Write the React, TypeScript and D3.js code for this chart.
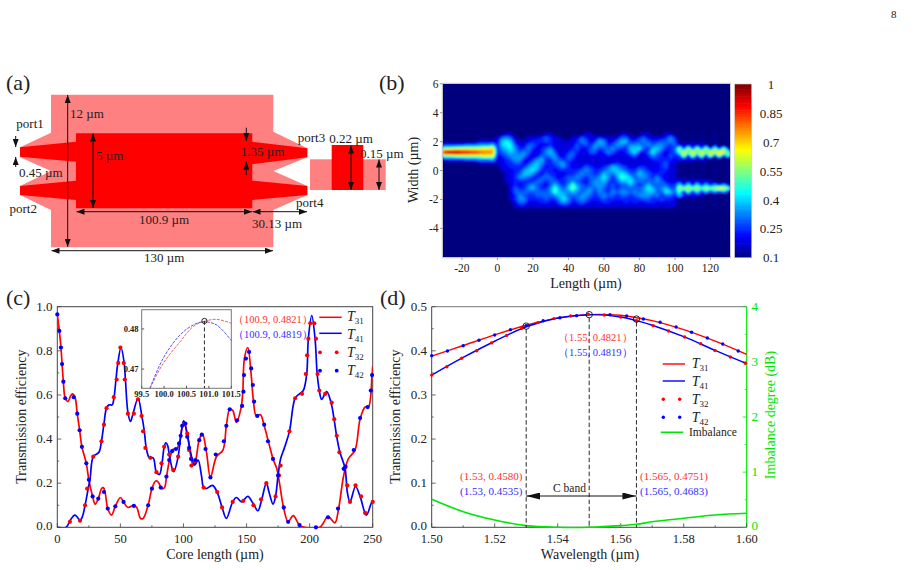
import { useMemo } from "react";
import * as d3 from "d3";

const FONT = "'Liberation Serif', serif";
const RED = "#ff0000";
const BLUE = "#0000ff";
const GREEN = "#00e600";
const AXIS = "#444";

// (a) device outline in um
const claddingOutline = [
    [0, 6], [130, 6], [130, 3.09], [149.9, 1.78], [149.9, 1.08], [130, 0], [149.9, -1.18], [149.9, -1.89],
    [130, -3.07], [130, -6], [0, -6], [0, -3.07], [-18.1, -1.89], [-18.1, -1.18], [0, 0], [-18.1, 1.08],
    [-18.1, 1.86], [0, 3.01],
];
const coreOutline = [
    [14.6, 2.96], [117.7, 2.96], [117.7, 2.3], [149.9, 1.78], [149.9, 1.08], [117.7, 0.53], [117.7, -0.76],
    [149.9, -1.18], [149.9, -1.89], [117.7, -2.28], [117.7, -2.93], [14.6, -2.93], [14.6, -2.28], [-18.1, -1.89],
    [-18.1, -1.18], [14.6, -0.76], [14.6, 0.73], [-18.1, 1.12], [-18.1, 1.86], [14.6, 2.3],
];

// (b) field intensity, base-36 digits, value = 0.1 + 0.05 * digit ("." is the faint streak level)
// rows run y = 2.5 .. -2.75, step 0.25. columns step 2.5 um
const inputRows = [
    "000000000000", "000000000000", "000000001111", "333334445556", "999aaaaaabbc", "hiiihhggfeed",
    "999aaaaaabbb", "333334445556", "000000001111", "000000000000", "000000000000", "000000000000",
    "000000000000", "000000000000", "000000000000", "000000000000", "000000000000", "000000000000",
    "000000000000", "000000000000", "000000000000", "000000000000",
];
const coreRows = [
    "00110000000110000000110000001100011000110",
    "14541001123431100124312321124421342122353",
    "26762112333432111135423652246633454334454",
    "36774224432232111243435553455455545455434",
    "35675335323452122342245344543366743665334",
    "34565454223564123432244235422357324753234",
    "23455553224455224421222223222234213543243",
    "12345532356335434321111221111112112333332",
    "12334423565334553221221111232111111223422",
    "01233335664233453222432234654322332223411",
    "01123356753332333334543345665433543223311",
    "00123466532433223345443465467644654333211",
    "00123554334443234454344575358764554353211",
    "00123333344344334543245564346675444454222",
    "00023234543246435854345553434464346444433",
    "00024335643358546964454543434444457645644",
    "00014444444458655654553543545545456644764",
    "00013543344445664445543454434434555453443",
    "00013553333433575345433343333333344334332",
    "00002442223322454234322233222323223322222",
    "00001221111111122111111111111111111111111",
    "00000000000000000000000000000000000000000",
];
const outputRows = [
    "0.0.0.00.00.", "0.0.0.00.00.", "0.0.0.00.00.", "212212101000", "a3a3a3a29292", "8b9b9b9bacb8",
    "3a2a3a2a2a28", "313111100000", "0.0.0.00.00.", "0.0.0.00.00.", "0.0.0.00.00.", "0.0.0.00.00.",
    "0.0.0.00.00.", "212121110000", "717171615151", "a9a9a8a9acb9", "818171615151", "631311000000",
    "0.0.0.00.00.", "0.0.0.00.00.", "0.0.0.00.00.", "0.0.0.00.00.",
];
const jetStops = [0.1, 0.2125, 0.325, 0.4375, 0.55, 0.6625, 0.775, 0.8875, 1];
const jetColors = ["#00007f", "#0000ff", "#007fff", "#00ffff", "#7fff7f", "#ffff00", "#ff7f00", "#ff0000", "#7f0000"];
const colorbarLabels = [1, 0.85, 0.7, 0.55, 0.4, 0.25, 0.1];

// (c) lines
const t31X = [0, 1.6, 2.9, 3.8, 4.8, 6.3, 8.5, 10.5, 12, 14, 15.8, 17.7, 19.5, 23, 25, 28, 30, 32.5, 35, 36.5, 38, 40, 43, 46, 50, 52.5, 56, 60.7, 63, 66, 68, 72, 75, 78, 80, 83, 85, 86.5, 89.2, 91.8, 94.4, 97, 100.2, 103.7, 105, 107.6, 109.7, 112.4, 115, 118.2, 121.4, 126.1, 131.3, 134, 136.7, 139, 142, 145.6, 147, 148.3, 151, 153.7, 155.5, 157.7, 161, 164, 167.5, 171, 174, 176, 179.5, 183, 187, 192, 196, 208, 214.6, 220, 223, 227, 230.7, 236, 240, 244, 246.6, 249.5, 250];
const t31Y = [0.965, 0.89, 0.815, 0.74, 0.66, 0.585, 0.57, 0.595, 0.605, 0.59, 0.515, 0.44, 0.365, 0.29, 0.215, 0.14, 0.105, 0.13, 0.175, 0.18, 0.155, 0.085, 0.055, 0.095, 0.135, 0.115, 0.09, 0.1, 0.09, 0.04, 0.04, 0.1, 0.175, 0.21, 0.205, 0.175, 0.18, 0.226, 0.312, 0.354, 0.354, 0.387, 0.482, 0.4, 0.35, 0.282, 0.305, 0.395, 0.425, 0.342, 0.226, 0.32, 0.35, 0.46, 0.535, 0.53, 0.475, 0.54, 0.61, 0.765, 0.815, 0.69, 0.57, 0.505, 0.51, 0.46, 0.385, 0.31, 0.265, 0.205, 0.085, 0.025, 0.053, 0.01, 0, 0, 0.048, 0.02, 0.085, 0.235, 0.31, 0.35, 0.49, 0.545, 0.545, 0.69, 0.73];
const t41X = [0, 7, 10, 12.5, 14, 16, 18, 20, 22, 24.5, 26, 28.5, 33, 35, 37, 39, 41, 43.5, 45, 46.5, 48, 50.5, 53, 54, 56, 58, 60, 64, 67, 69, 70.5, 73, 76, 78.5, 81, 83, 84.6, 86, 87.5, 89.2, 92.3, 95.8, 97.5, 100.2, 103.7, 106.8, 108.9, 111.6, 114.2, 116, 118, 123, 126.7, 130.6, 134, 139, 142, 146, 151, 155, 159, 162, 165.7, 167.8, 171, 173, 175, 177, 180, 184, 188.5, 192, 195, 197.7, 199, 201.7, 204.3, 206, 207.7, 209.5, 213.5, 217, 219.4, 221.5, 224, 228, 230, 232, 236.4, 240, 245, 249, 250];
const t41Y = [0, 0, 0.03, 0.05, 0.055, 0.045, 0.03, 0.05, 0.1, 0.175, 0.22, 0.32, 0.34, 0.39, 0.47, 0.54, 0.555, 0.555, 0.59, 0.67, 0.745, 0.815, 0.745, 0.67, 0.52, 0.48, 0.515, 0.585, 0.505, 0.435, 0.36, 0.315, 0.315, 0.25, 0.24, 0.29, 0.36, 0.383, 0.37, 0.312, 0.252, 0.32, 0.4, 0.482, 0.4, 0.312, 0.282, 0.305, 0.237, 0.18, 0.175, 0.19, 0.16, 0.09, 0.04, 0.115, 0.135, 0.115, 0.14, 0.11, 0.075, 0.125, 0.2, 0.16, 0.105, 0.14, 0.235, 0.31, 0.36, 0.435, 0.585, 0.605, 0.62, 0.695, 0.855, 0.96, 0.855, 0.695, 0.62, 0.58, 0.615, 0.565, 0.49, 0.41, 0.34, 0.27, 0.155, 0.115, 0.185, 0.14, 0.055, 0.11, 0.115];
// (c) dots
const t32X = [10, 18, 22, 23.7, 28.5, 35, 37, 39, 44.8, 47, 48.3, 50, 52.7, 53.5, 56, 60.7, 64, 66.8, 68, 69.8, 73.8, 78.6, 82.6, 84.7, 88.7, 91.8, 95.8, 100.2, 103, 104.5, 106.3, 109, 116, 126.7, 130.6, 139, 147.5, 155.5, 161.5, 165.7, 173, 175.7, 177, 184, 188.5, 194, 197, 198, 199, 200.5, 203.7, 205, 206.3, 207.7, 212.3, 217.5, 219.5, 221.5, 223.6, 228, 229.8, 232, 236.4, 240.8, 244, 250];
const t32Y = [0.025, 0.03, 0.1, 0.175, 0.32, 0.39, 0.465, 0.54, 0.59, 0.67, 0.745, 0.815, 0.745, 0.67, 0.515, 0.515, 0.58, 0.505, 0.435, 0.36, 0.315, 0.25, 0.29, 0.365, 0.33, 0.26, 0.32, 0.465, 0.425, 0.35, 0.28, 0.3, 0.18, 0.16, 0.09, 0.115, 0.12, 0.1, 0.127, 0.2, 0.14, 0.235, 0.28, 0.435, 0.585, 0.605, 0.695, 0.78, 0.855, 0.925, 0.925, 0.855, 0.695, 0.62, 0.605, 0.565, 0.49, 0.415, 0.34, 0.27, 0.19, 0.115, 0.19, 0.14, 0.065, 0.115];
const t42X = [0, 1.6, 2.9, 3.8, 4.8, 6.3, 13, 15.8, 17.7, 19.5, 23, 25, 28, 32.5, 37, 40, 46, 52.5, 60.7, 72, 75, 82, 86.5, 88.7, 91, 94, 96.5, 97.8, 99, 101.5, 103, 104.5, 106, 109.5, 112.5, 114.5, 117.5, 121.4, 125.6, 132, 134, 136.7, 142.5, 146.5, 147.5, 148, 149.5, 152, 153.7, 155, 156, 158.5, 164, 167, 171, 175, 179.5, 183, 192, 205, 214.6, 222.5, 227, 228.5, 235, 240, 246, 248.5, 249.5];
const t42Y = [0.965, 0.89, 0.815, 0.74, 0.66, 0.585, 0.59, 0.515, 0.44, 0.365, 0.29, 0.215, 0.14, 0.13, 0.16, 0.085, 0.095, 0.115, 0.097, 0.1, 0.175, 0.18, 0.23, 0.305, 0.345, 0.355, 0.38, 0.415, 0.46, 0.47, 0.41, 0.36, 0.31, 0.305, 0.395, 0.42, 0.355, 0.226, 0.33, 0.39, 0.46, 0.535, 0.485, 0.55, 0.615, 0.69, 0.765, 0.795, 0.72, 0.645, 0.57, 0.505, 0.465, 0.39, 0.31, 0.235, 0.09, 0.025, 0.01, 0, 0.045, 0.085, 0.265, 0.275, 0.35, 0.495, 0.545, 0.62, 0.69];
// (c) inset
const insetX = [99.685, 99.98, 100.355, 100.65, 100.875, 101.17, 101.5];
const insetT31 = [0.4652, 0.4714, 0.4768, 0.4806, 0.4818, 0.4824, 0.4814];
const insetT41 = [0.4652, 0.4727, 0.4785, 0.481, 0.4818, 0.481, 0.4771];

// (d)
const wlX = [1.5, 1.51, 1.52, 1.53, 1.54, 1.55, 1.56, 1.565, 1.57, 1.58, 1.59, 1.6];
const wlT31 = [0.388, 0.412, 0.436, 0.458, 0.474, 0.4821, 0.4805, 0.4751, 0.4685, 0.448, 0.422, 0.392];
const wlT41 = [0.345, 0.385, 0.4217, 0.4545, 0.4745, 0.4819, 0.4767, 0.4683, 0.458, 0.432, 0.401, 0.371];
const imbalance = [0.508, 0.283, 0.132, 0.03, 0, 0, 0.03, 0.054, 0.1, 0.163, 0.223, 0.254];
const wlT32X = [1.5, 1.5048, 1.5095, 1.5143, 1.519, 1.5238, 1.5286, 1.5337, 1.5388, 1.5441, 1.5497, 1.5548, 1.56, 1.5651, 1.5703, 1.5752, 1.5803, 1.5854, 1.5899, 1.5948, 1.5996];
const wlT32Y = [0.345, 0.364, 0.383, 0.4, 0.418, 0.435, 0.451, 0.464, 0.473, 0.479, 0.483, 0.4812, 0.4767, 0.468, 0.457, 0.445, 0.4313, 0.4162, 0.401, 0.386, 0.3717];
const wlT42X = [1.5, 1.505, 1.51, 1.515, 1.52, 1.525, 1.53, 1.5354, 1.5407, 1.546, 1.5566, 1.5619, 1.5672, 1.5725, 1.5776, 1.5825, 1.5875, 1.5924, 1.5973];
const wlT42Y = [0.389, 0.3996, 0.4116, 0.4238, 0.436, 0.448, 0.457, 0.468, 0.475, 0.4797, 0.482, 0.479, 0.472, 0.4646, 0.454, 0.442, 0.429, 0.4155, 0.3996];
const markerWl = [1.53, 1.55, 1.565];
const markerEff = [0.456, 0.482, 0.472];

const Txt = ({ x, y, size = 13, fill = "#222", anchor = "start", rotate, bold, children }: any) => (
    <text
        x={x}
        y={y}
        fontSize={size}
        fill={fill}
        textAnchor={anchor}
        fontWeight={bold ? "bold" : "normal"}
        transform={rotate ? `rotate(${rotate} ${x} ${y})` : undefined}
    >
        {children}
    </text>
);

const Arrow = ({ x1, y1, x2, y2, both = true }: any) => (
    <line
        x1={x1}
        y1={y1}
        x2={x2}
        y2={y2}
        stroke="#111"
        strokeWidth={1}
        markerEnd="url(#arrow)"
        markerStart={both ? "url(#arrow)" : undefined}
    />
);

function SubT({ x, y, sub }: any) {
    return (
        <text x={x} y={y} fontSize={14} fill="#222" fontStyle="italic">
            T
            <tspan fontSize={9} dy={3} fontStyle="normal">
                {sub}
            </tspan>
        </text>
    );
}

function Ticks({ scale, values, minor, orient, at, color = AXIS, len = 4 }: any) {
    const row = (v: number, l: number, key: string) => {
        const p = scale(v);
        if (orient === "bottom") return <line key={key} x1={p} x2={p} y1={at} y2={at - l} stroke={color} />;
        if (orient === "left") return <line key={key} x1={at} x2={at + l} y1={p} y2={p} stroke={color} />;
        return <line key={key} x1={at} x2={at - l} y1={p} y2={p} stroke={color} />;
    };
    return (
        <g strokeWidth={0.8}>
            {values.map((v: number) => row(v, len, `M${v}`))}
            {(minor || []).map((v: number) => row(v, len / 2, `m${v}`))}
        </g>
    );
}

function PanelA() {
    const schemX = d3.scaleLinear().domain([0, 130]).range([51, 273.3]);
    const schemY = d3.scaleLinear().domain([-6, 6]).range([247.3, 94.7]);
    const outline = d3
        .line<number[]>()
        .x((d) => schemX(d[0]))
        .y((d) => schemY(d[1]))
        .curve(d3.curveLinearClosed);
    return (
        <g>
            <path d={outline(claddingOutline) as string} fill="#ff8080" />
            <path d={outline(coreOutline) as string} fill="#ff0000" />
            <rect x={310} y={159.3} width={75.7} height={30.7} fill="#ff8080" />
            <rect x={331.7} y={145} width={31.6} height={45} fill="#ff0000" />
            <Arrow x1={67.7} y1={95} x2={67.7} y2={247} />
            <Arrow x1={93} y1={133.5} x2={93} y2={208} />
            <Arrow x1={76.5} y1={211.7} x2={252} y2={211.7} />
            <Arrow x1={252.5} y1={211.7} x2={307} y2={211.7} />
            <Arrow x1={51.5} y1={250.7} x2={273} y2={250.7} />
            <Arrow x1={15.7} y1={136} x2={15.7} y2={147} both={false} />
            <Arrow x1={15.7} y1={167} x2={15.7} y2={157} both={false} />
            <Arrow x1={246.3} y1={127.7} x2={246.3} y2={141} both={false} />
            <Arrow x1={246.3} y1={175} x2={246.3} y2={161.7} both={false} />
            <Arrow x1={351} y1={145.5} x2={351} y2={190} />
            <Arrow x1={379} y1={159.5} x2={379} y2={190} />
            <Txt x={6} y={90} size={22}>(a)</Txt>
            <Txt x={70} y={118}>12 µm</Txt>
            <Txt x={16.3} y={128}>port1</Txt>
            <Txt x={96} y={160}>5 µm</Txt>
            <Txt x={19} y={177}>0.45 µm</Txt>
            <Txt x={9.5} y={213}>port2</Txt>
            <Txt x={240.7} y={156}>1.35 µm</Txt>
            <Txt x={297.7} y={142}>port3</Txt>
            <Txt x={329.3} y={143}>0.22 µm</Txt>
            <Txt x={360} y={158}>0.15 µm</Txt>
            <Txt x={296} y={207}>port4</Txt>
            <Txt x={139} y={224}>100.9 µm</Txt>
            <Txt x={252} y={228}>30.13 µm</Txt>
            <Txt x={144} y={262}>130 µm</Txt>
        </g>
    );
}

function PanelB() {
    const x = d3.scaleLinear().domain([-30.8, 131]).range([442.7, 730]);
    const y = d3.scaleLinear().domain([-6, 6]).range([257.3, 83.8]);
    const jet = d3.scaleLinear<string>().domain(jetStops).range(jetColors).clamp(true);
    const barY = d3.scaleLinear().domain([0.1, 1]).range([257.3, 84]);
    const bands = useMemo(() => {
        const rows = inputRows.map((r, i) => r + coreRows[i] + outputRows[i]);
        const n = rows[0].length;
        const level = (c: string) => {
            if (c === ".") return 0.125;
            if (c === "1") return 0.18;
            return 0.1 + 0.05 * parseInt(c, 36);
        };
        const values = rows.flatMap((r) => r.split("").map(level));
        return d3.contours().size([n, rows.length]).thresholds(d3.range(0.105, 1, 0.015))(values);
    }, []);
    const path = d3.geoPath(
        d3.geoTransform({
            point(gx: number, gy: number) {
                (this as any).stream.point(x(-30 + (gx - 0.5) * 2.5), y(2.52 - (gy - 0.5) * 0.25));
            },
        })
    );
    return (
        <g>
            <defs>
                <clipPath id="heatClip">
                    <rect x={442.7} y={83.8} width={287.3} height={173.5} />
                </clipPath>
                <filter id="soft" x="-5%" y="-5%" width="110%" height="110%">
                    <feGaussianBlur stdDeviation={0.85} />
                </filter>
            </defs>
            <rect x={442.7} y={83.8} width={287.3} height={173.5} fill={jet(0.1)} />
            <g clipPath="url(#heatClip)">
                <g filter="url(#soft)">
                    {bands.map((b) => (
                        <path key={b.value} d={path(b) as string} fill={jet(b.value)} />
                    ))}
                </g>
            </g>
            <rect x={442.2} y={83.3} width={288.3} height={174.5} fill="none" stroke="#ccc" strokeWidth={1} />
            {d3.range(99, 0, -1).map((i) => {
                const v = 0.1 + (i * 0.9) / 99;
                return (
                    <rect
                        key={i}
                        x={734.7}
                        y={barY(v)}
                        width={17}
                        height={barY(0.1) - barY(0.1 + 0.9 / 99) + 0.6}
                        fill={jet(v)}
                    />
                );
            })}
            <rect x={734.7} y={84} width={17} height={173.3} fill="none" stroke="#ccc" strokeWidth={0.6} />
            {colorbarLabels.map((v) => (
                <Txt key={v} x={771} y={barY(v) + 5} anchor="middle" size={13}>
                    {v}
                </Txt>
            ))}
            {[-20, 0, 20, 40, 60, 80, 100, 120].map((v) => (
                <g key={v}>
                    <line x1={x(v)} x2={x(v)} y1={257.3} y2={260} stroke="#999" />
                    <Txt x={x(v)} y={272} size={11.5} anchor="middle">{v}</Txt>
                </g>
            ))}
            {[6, 4, 2, 0, -2, -4].map((v) => (
                <g key={v}>
                    <line x1={440} x2={442.7} y1={y(v)} y2={y(v)} stroke="#999" />
                    <Txt x={438.5} y={y(v) + 4} size={11.5} anchor="end">{v}</Txt>
                </g>
            ))}
            <Txt x={586} y={288} size={14} anchor="middle">Length (µm)</Txt>
            <Txt x={418} y={170} size={14} anchor="middle" rotate={-90}>Width (µm)</Txt>
            <Txt x={379} y={90} size={22}>(b)</Txt>
        </g>
    );
}

function PanelC() {
    const x = d3.scaleLinear().domain([0, 250]).range([57.3, 372.7]);
    const y = d3.scaleLinear().domain([0, 1]).range([527.3, 306.7]);
    const ix = d3.scaleLinear().domain([99.5, 101.5]).range([141.7, 231.3]);
    const iy = d3.scaleLinear().domain([0.4652, 0.4848]).range([388.3, 309.7]);
    const line = d3
        .line<number>()
        .x((d) => x(d))
        .curve(d3.curveCatmullRom.alpha(0.5));
    const inset = (vals: number[]) =>
        d3
            .line<number>()
            .x((d) => ix(d))
            .y((_, i) => iy(vals[i]))
            .curve(d3.curveCatmullRom)(insetX) as string;
    return (
        <g>
            <defs>
                <clipPath id="cClip">
                    <rect x={57.3} y={306.7} width={315.4} height={220.6} />
                </clipPath>
            </defs>
            <rect x={57.3} y={306.7} width={315.4} height={220.6} fill="none" stroke={AXIS} strokeWidth={1} />
            <Ticks scale={x} values={[0, 50, 100, 150, 200, 250]} minor={[25, 75, 125, 175, 225]} orient="bottom" at={527.3} />
            <Ticks scale={y} values={[0, 0.2, 0.4, 0.6, 0.8, 1]} minor={[0.1, 0.3, 0.5, 0.7, 0.9]} orient="left" at={57.3} />
            <g clipPath="url(#cClip)">
                <path d={line.y((_, i) => y(t31Y[i]))(t31X) as string} fill="none" stroke={RED} strokeWidth={1.7} />
                <path d={line.y((_, i) => y(t41Y[i]))(t41X) as string} fill="none" stroke={BLUE} strokeWidth={1.7} />
            </g>
            {t32X.map((v, i) => (
                <circle key={i} cx={x(v)} cy={y(t32Y[i])} r={2.1} fill={RED} />
            ))}
            {t42X.map((v, i) => (
                <circle key={i} cx={x(v)} cy={y(t42Y[i])} r={2.1} fill={BLUE} />
            ))}
            <rect x={141.7} y={309.7} width={89.6} height={78.6} fill="#fff" stroke="#777" strokeWidth={1} />
            <path d={inset(insetT31)} fill="none" stroke="#f05050" strokeWidth={0.9} strokeDasharray="3 1.2" />
            <path d={inset(insetT41)} fill="none" stroke="#4040f0" strokeWidth={0.9} strokeDasharray="3 1.2" />
            <line x1={ix(100.9)} x2={ix(100.9)} y1={iy(0.482)} y2={388.3} stroke="#111" strokeWidth={0.9} strokeDasharray="4 2.5" />
            <circle cx={ix(100.9)} cy={iy(0.482)} r={2.6} fill="none" stroke="#111" strokeWidth={0.9} />
            {[99.5, 100, 100.5, 101, 101.5].map((v) => (
                <g key={v}>
                    <line x1={ix(v)} x2={ix(v)} y1={388.3} y2={385.8} stroke="#555" />
                    <Txt x={ix(v)} y={397} size={8.5} bold anchor="middle">{v.toFixed(1)}</Txt>
                </g>
            ))}
            {[0.48, 0.47].map((v) => (
                <g key={v}>
                    <line x1={141.7} x2={144.2} y1={iy(v)} y2={iy(v)} stroke="#555" />
                    <Txt x={138.5} y={iy(v) + 3} size={8.5} bold anchor="end">{v.toFixed(2)}</Txt>
                </g>
            ))}
            <Txt x={233} y={322.5} size={10.5} fill="#ff3030">（100.9, 0.4821）</Txt>
            <Txt x={233} y={338} size={10.5} fill="#3030ff">（100.9, 0.4819）</Txt>
            <line x1={319.3} x2={341.7} y1={317.3} y2={317.3} stroke={RED} strokeWidth={1.5} />
            <line x1={319.3} x2={341.7} y1={333.3} y2={333.3} stroke={BLUE} strokeWidth={1.5} />
            {[320, 336.7].map((cx) => (
                <g key={cx}>
                    <circle cx={cx} cy={352.3} r={1.9} fill={RED} />
                    <circle cx={cx} cy={370.7} r={1.9} fill={BLUE} />
                </g>
            ))}
            <SubT x={347} y={321} sub="31" />
            <SubT x={347} y={339} sub="41" />
            <SubT x={347} y={357} sub="32" />
            <SubT x={347} y={375} sub="42" />
            {[0, 50, 100, 150, 200, 250].map((v) => (
                <Txt key={v} x={x(v)} y={543.3} size={12.5} anchor="middle">{v}</Txt>
            ))}
            {[0, 0.2, 0.4, 0.6, 0.8, 1].map((v) => (
                <Txt key={v} x={52.5} y={v === 0 ? 529.5 : y(v) + 4} size={13} anchor="end">{v.toFixed(1)}</Txt>
            ))}
            <Txt x={26} y={416.7} size={14} anchor="middle" rotate={-90}>Transmission efficiency</Txt>
            <Txt x={215} y={558.8} size={14} anchor="middle">Core length (µm)</Txt>
            <Txt x={6} y={305} size={22}>(c)</Txt>
        </g>
    );
}

function PanelD() {
    const x = d3.scaleLinear().domain([1.5, 1.6]).range([431.7, 746.7]);
    const y = d3.scaleLinear().domain([0, 0.5]).range([527.3, 306.7]);
    const yDb = d3.scaleLinear().domain([0, 4]).range([527.3, 306.7]);
    const line = (s: (v: number) => number, vals: number[]) =>
        d3
            .line<number>()
            .x((d) => x(d))
            .y((_, i) => s(vals[i]))
            .curve(d3.curveCatmullRom.alpha(0.5))(wlX) as string;
    return (
        <g>
            <defs>
                <marker id="cband" viewBox="0 0 14 7" refX="14" refY="3.5" markerWidth="14" markerHeight="7" markerUnits="userSpaceOnUse" orient="auto-start-reverse">
                    <path d="M0 0L14 3.5L0 7Z" fill="#111" />
                </marker>
            </defs>
            <line x1={431.7} x2={746.7} y1={306.7} y2={306.7} stroke="#777" />
            <line x1={431.7} x2={431.7} y1={306.7} y2={527.3} stroke={AXIS} />
            <line x1={431.7} x2={746.7} y1={527.3} y2={527.3} stroke={AXIS} />
            <line x1={746.7} x2={746.7} y1={306.7} y2={527.3} stroke={GREEN} strokeWidth={1.2} />
            <Ticks scale={x} values={[1.5, 1.52, 1.54, 1.56, 1.58, 1.6]} minor={[1.51, 1.53, 1.55, 1.57, 1.59]} orient="bottom" at={527.3} />
            <Ticks scale={y} values={[0, 0.1, 0.2, 0.3, 0.4, 0.5]} minor={[0.05, 0.15, 0.25, 0.35, 0.45]} orient="left" at={431.7} />
            <Ticks scale={yDb} values={[0, 1, 2, 3, 4]} minor={[0.5, 1.5, 2.5, 3.5]} orient="right" at={746.7} color={GREEN} />
            <path d={line(y, wlT31)} fill="none" stroke={RED} strokeWidth={1.4} />
            <path d={line(y, wlT41)} fill="none" stroke={BLUE} strokeWidth={1.4} />
            <path d={line(yDb, imbalance)} fill="none" stroke={GREEN} strokeWidth={1.6} />
            {wlT32X.map((v, i) => (
                <circle key={i} cx={x(v)} cy={y(wlT32Y[i])} r={1.7} fill={RED} />
            ))}
            {wlT42X.map((v, i) => (
                <circle key={i} cx={x(v)} cy={y(wlT42Y[i])} r={1.7} fill={BLUE} />
            ))}
            {markerWl.map((v, i) => (
                <g key={v}>
                    <line x1={x(v)} x2={x(v)} y1={y(markerEff[i]) + 3} y2={527.3} stroke="#111" strokeWidth={0.9} strokeDasharray="4.5 2.5" />
                    <circle cx={x(v)} cy={y(markerEff[i])} r={3.2} fill="none" stroke="#111" strokeWidth={0.9} />
                </g>
            ))}
            <line x1={x(1.53)} x2={x(1.565)} y1={496} y2={496} stroke="#111" strokeWidth={1} markerStart="url(#cband)" markerEnd="url(#cband)" />
            <Txt x={553} y={492} size={11.5}>C band</Txt>
            <Txt x={558} y={340.5} size={10.5} fill="#ff3030">（1.55, 0.4821）</Txt>
            <Txt x={558} y={355.5} size={10.5} fill="#3030ff">（1.55, 0.4819）</Txt>
            <Txt x={460} y={480} size={11} fill="#ff3030">(1.53, 0.4580)</Txt>
            <Txt x={460} y={495} size={11} fill="#3030ff">(1.53, 0.4535)</Txt>
            <Txt x={640} y={480} size={11} fill="#ff3030">(1.565, 0.4751)</Txt>
            <Txt x={640} y={495} size={11} fill="#3030ff">(1.565, 0.4683)</Txt>
            <line x1={662.7} x2={685} y1={364} y2={364} stroke={RED} strokeWidth={1.4} />
            <line x1={662.7} x2={685} y1={381} y2={381} stroke={BLUE} strokeWidth={1.4} />
            {[663.3, 679.7].map((cx) => (
                <g key={cx}>
                    <circle cx={cx} cy={399.3} r={1.7} fill={RED} />
                    <circle cx={cx} cy={417.3} r={1.7} fill={BLUE} />
                </g>
            ))}
            <line x1={660.7} x2={683.3} y1={432.3} y2={432.3} stroke={GREEN} strokeWidth={1.6} />
            <SubT x={691.7} y={368} sub="31" />
            <SubT x={691.7} y={386} sub="41" />
            <SubT x={691.7} y={404} sub="32" />
            <SubT x={691.7} y={422} sub="42" />
            <Txt x={689} y={436} size={11.5}>Imbalance</Txt>
            {[1.5, 1.52, 1.54, 1.56, 1.58, 1.6].map((v) => (
                <Txt key={v} x={x(v)} y={543.3} size={12.5} anchor="middle">{v.toFixed(2)}</Txt>
            ))}
            {[0, 0.1, 0.2, 0.3, 0.4, 0.5].map((v) => (
                <Txt key={v} x={427} y={v === 0 ? 529.5 : y(v) + 4} size={13} anchor="end">{v.toFixed(1)}</Txt>
            ))}
            {[0, 1, 2, 3, 4].map((v) => (
                <Txt key={v} x={751.5} y={v === 0 ? 529.5 : yDb(v) + 4} size={13} fill={GREEN}>{v}</Txt>
            ))}
            <Txt x={400} y={416.7} size={14} anchor="middle" rotate={-90}>Transmission efficiency</Txt>
            <Txt x={775} y={415} size={14} fill={GREEN} anchor="middle" rotate={-90}>Imbalance degree (dB)</Txt>
            <Txt x={590} y={558.8} size={14} anchor="middle">Wavelength (µm)</Txt>
            <Txt x={380} y={305} size={22}>(d)</Txt>
        </g>
    );
}

export default function App() {
    return (
        <svg
            width={915}
            height={570}
            style={{ position: "absolute", left: 0, top: 0, background: "#fff" }}
            fontFamily={FONT}
        >
            <defs>
                <marker id="arrow" viewBox="0 0 8 6" refX="8" refY="3" markerWidth="8" markerHeight="6" markerUnits="userSpaceOnUse" orient="auto-start-reverse">
                    <path d="M0 0L8 3L0 6Z" fill="#111" />
                </marker>
            </defs>
            <Txt x={891} y={18} size={11}>8</Txt>
            <PanelA />
            <PanelB />
            <PanelC />
            <PanelD />
        </svg>
    );
}
